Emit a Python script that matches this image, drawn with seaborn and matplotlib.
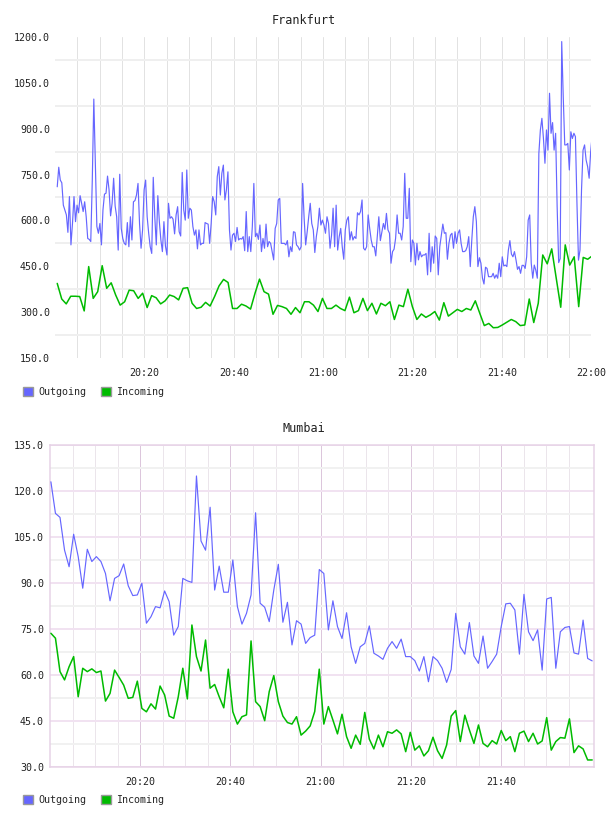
import numpy as np
import pandas as pd
import matplotlib
matplotlib.use("Agg")
import matplotlib.pyplot as plt
import matplotlib.dates as mdates
from matplotlib.patches import Patch
import seaborn as sns

sns.set_theme(style="white")
plt.rcParams["font.family"] = ["DejaVu Sans Mono", "DejaVu Sans"]

# ---------------- data ----------------
START = pd.Timestamp("2024-01-01 20:00")

series_names = ["Outgoing", "Incoming"]

# Frankfurt, outgoing (dense sampling, ~20 s)
fra_out = [
    710, 774, 732, 723, 650, 634, 618, 561, 678, 520,
    590, 678, 596, 650, 625, 681, 656, 629, 661, 612,
    541, 538, 531, 732, 997, 787, 580, 558, 590, 520,
    634, 686, 689, 745, 700, 615, 656, 738, 647, 612,
    503, 751, 574, 541, 525, 520, 593, 514, 612, 536,
    661, 665, 683, 721, 590, 509, 569, 700, 732, 612,
    558, 514, 492, 741, 612, 520, 681, 596, 536, 498,
    596, 516, 487, 656, 607, 612, 604, 556, 618, 645,
    563, 549, 757, 634, 601, 765,
    607, 640, 634, 580, 552, 569, 507, 569, 520, 525,
    525, 593, 590, 588, 525, 590, 678, 661, 618, 743,
    776, 683, 754, 781, 667, 700, 759, 569, 503, 552,
    558, 531, 577, 536, 541, 539, 547, 501, 629, 498,
    547, 498, 580, 721, 547, 558, 538, 585, 498, 541,
    509, 588, 514, 531, 525, 498, 471, 574, 590, 667,
    672, 525, 525, 525, 520, 534, 481, 514, 498, 563,
    561, 520, 514, 503, 514, 721, 607, 520, 563, 612,
    656, 590, 569, 495, 547, 580, 640,
    585, 601, 585, 558, 612, 590, 509, 552, 640, 514,
    650, 503, 547, 574, 514, 473, 569, 601, 612, 536,
    563, 536, 547, 541, 625, 618, 629, 667, 509, 503,
    514, 618, 574, 536, 514, 514, 484, 547, 612, 534,
    563, 590, 571, 623, 569, 558, 460, 498, 506, 541,
    618, 558, 558, 536, 580, 754, 607, 607, 705, 465,
    536, 525, 454, 525, 471, 498, 481, 487, 487, 492,
    422, 558, 432, 514, 460, 549, 541, 422, 514, 552,
    588, 558, 560, 473, 525, 552, 558, 509, 563,
    525, 558, 569, 525, 498, 498, 501, 514, 547, 449,
    536, 612, 645, 596, 449, 478, 460, 411, 392, 447,
    443, 416, 416, 416, 427, 411, 422, 411, 460, 416,
    481, 451, 454, 449, 503, 534, 490, 481, 498, 471,
    440, 449, 427, 453, 453, 443, 481, 601, 618, 460,
    411, 454, 437, 411, 819, 896, 934, 869, 787, 896,
    830, 1016, 885, 920, 830, 885, 645, 462, 475, 1185,
    1005, 847, 847, 852, 765, 890, 868, 885, 874, 656,
    470, 503, 700, 830, 847, 798, 776, 738, 825, 879,
]

# Frankfurt, incoming (one sample per minute)
fra_in = [
    394, 343, 327, 352, 352, 351, 304, 449, 345, 367,
    452, 378, 396, 356, 323, 334, 372, 370, 345, 362,
    315, 354, 347, 327, 337, 356, 351, 340, 378, 380,
    329, 312, 316, 332, 320, 351, 386, 407, 397, 312,
    312, 326, 320, 310, 362, 408, 367, 359, 293, 322,
    318, 312, 293, 315, 298, 334, 334, 323, 302, 345,
    312, 312, 323, 312, 305, 349, 298, 305, 345, 305,
    329, 294, 329, 321, 334, 276, 323, 318, 375, 318,
    276, 294, 283, 291, 302, 274, 331, 287, 298, 309,
    302, 312, 307, 337, 296, 256, 263, 249, 250, 258,
    267, 276, 269, 256, 258, 343, 266, 329, 487, 458,
    507, 411, 316, 520, 454, 481, 318, 479, 473, 484,
]

# Mumbai, outgoing (one sample per minute)
mum_out = [
    123.0, 112.7, 111.4, 100.7, 95.3, 105.9, 98.6, 88.3, 101.0, 97.0,
    98.6, 97.0, 93.1, 84.2, 91.5, 92.4, 96.2, 89.1, 85.9, 86.1,
    89.9, 76.9, 79.0, 82.3, 81.9, 87.4, 83.9, 73.0, 75.8, 91.5,
    90.7, 90.2, 124.9, 103.7, 100.7, 114.7, 87.7, 95.5, 87.0, 87.0,
    97.5, 82.3, 76.6, 80.1, 86.1, 112.9, 83.4, 82.1, 77.4, 87.7,
    96.1, 77.2, 83.7, 69.8, 77.7,
    76.6, 70.3, 72.2, 73.0, 94.4, 93.1, 74.7, 84.2, 75.8, 71.9,
    80.3, 69.2, 63.8, 69.2, 70.3, 76.0, 67.1, 66.2, 65.1, 68.7,
    70.9, 68.7, 71.7, 66.0, 66.0, 64.7, 61.3, 66.0, 57.8, 66.0,
    64.7, 62.2, 57.6, 61.8, 80.1, 69.2, 66.8, 77.1, 66.2, 63.8,
    72.7, 62.2, 64.4, 66.8, 75.8, 83.2, 83.4, 81.2, 66.8, 86.3,
    74.1, 71.2, 74.7, 61.6, 84.8, 85.3, 62.2, 74.1, 75.5, 75.8,
    67.2, 66.8, 77.9, 65.4, 64.6,
]

# Mumbai, incoming (one sample per minute)
mum_in = [
    73.6, 72.0, 61.1, 58.4, 62.7, 66.0, 52.9, 62.2, 61.1, 62.0,
    60.8, 61.3, 51.5, 54.0, 61.6, 59.2, 56.7, 52.4, 52.7, 58.0,
    49.1, 48.0, 50.6, 48.9, 56.4, 53.5, 46.6, 45.9, 52.9, 62.2,
    52.2, 76.3, 66.0, 61.3, 71.4, 55.7, 56.9, 52.9, 49.3, 61.9,
    48.0, 44.0, 46.4, 47.0, 71.1, 51.3, 49.7, 45.1, 54.6, 59.8,
    51.3, 46.6, 44.5, 44.0, 46.4,
    40.4, 41.7, 43.4, 48.1, 61.9, 44.0, 49.7, 45.3, 40.8, 47.2,
    39.9, 36.1, 40.4, 37.4, 47.8, 39.1, 35.9, 40.4, 36.6, 41.5,
    41.0, 42.1, 40.8, 35.0, 41.3, 35.5, 36.9, 33.6, 35.3, 39.7,
    35.3, 32.8, 37.2, 46.6, 48.4, 38.3, 46.9, 42.1, 37.7, 43.7,
    37.7, 36.6, 38.6, 37.5, 41.9, 38.6, 39.9, 35.0, 41.0, 41.7,
    38.3, 41.0, 37.5, 38.5, 46.1, 35.5, 38.3, 39.6, 39.4, 45.7,
    34.7, 36.9, 35.9, 32.3, 32.3,
]

# first / last sample, minutes after 20:00
fra_out_span = (0.5, 120.2)
fra_in_span = (0.5, 120.2)
mum_span = (0.2, 120.2)

fra_yticks = [150, 300, 450, 600, 750, 900, 1050, 1200]
mum_yticks = [30, 45, 60, 75, 90, 105, 120, 135]
tick_times = ["20:20", "20:40", "21:00", "21:20", "21:40", "22:00"]

# ---------------- style ----------------
BLUE = "#6666ff"
GREEN = "#00bb00"
TXT = "#222222"
FS = 7.2
PX = 0.72  # one pixel in points

W, H = 608, 816
fig = plt.figure(figsize=(W / 100, H / 100), dpi=100)
fig.patch.set_facecolor("white")


def box(x0, y0, x1, y1):
    return [x0 / W, 1 - y1 / H, (x1 - x0) / W, (y1 - y0) / H]


def stamps(span, n):
    return START + pd.to_timedelta(np.linspace(span[0], span[1], n), unit="min")


def at(hm):
    return mdates.date2num(pd.Timestamp("2024-01-01 " + hm))


five_min = [t.strftime("%H:%M") for t in
            pd.date_range("2024-01-01 20:05", "2024-01-01 22:00", freq="5min")]


def draw(ax, out_vals, out_span, in_vals, in_span):
    d_out = pd.DataFrame({"time": stamps(out_span, len(out_vals)), "value": out_vals,
                          "series": series_names[0]})
    d_in = pd.DataFrame({"time": stamps(in_span, len(in_vals)), "value": in_vals,
                         "series": series_names[1]})
    sns.lineplot(data=d_out, x="time", y="value", ax=ax, color=BLUE, lw=0.85,
                 estimator=None, legend=False, zorder=3)
    sns.lineplot(data=d_in, x="time", y="value", ax=ax, color=GREEN, lw=1.1,
                 estimator=None, legend=False, zorder=4)
    ax.set_xlabel("")
    ax.set_ylabel("")
    ax.set_axisbelow(True)
    ax.tick_params(which="both", length=0, labelsize=FS, labelcolor=TXT)


def legend_at(y_px):
    handles = [Patch(facecolor=BLUE, edgecolor="#999999", lw=1, label=series_names[0]),
               Patch(facecolor=GREEN, edgecolor="#999999", lw=1, label=series_names[1])]
    fig.legend(handles=handles, loc="center left", bbox_to_anchor=(23 / W, 1 - y_px / H),
               ncol=2, frameon=False, fontsize=FS, handlelength=1.0, handleheight=1.0,
               handletextpad=0.5, columnspacing=1.5, borderpad=0, borderaxespad=0)


# ---------------- Frankfurt ----------------
ax1 = fig.add_axes(box(55, 37, 591.3, 358))
draw(ax1, fra_out, fra_out_span, fra_in, fra_in_span)
ax1.set_xlim(at("20:00"), at("22:00"))
ax1.set_ylim(150, 1200)
ax1.set_yticks(fra_yticks)
ax1.set_yticklabels([f"{v:.1f}" for v in fra_yticks])
ax1.set_yticks([v + 75 for v in fra_yticks[:-1]], minor=True)
ax1.set_xticks([at(t) for t in tick_times])
ax1.set_xticklabels(tick_times)
ax1.set_xticks([at(t) for t in five_min if t not in tick_times], minor=True)
ax1.grid(False)
ax1.grid(which="both", axis="x", color="#e2e2e2", lw=PX)
ax1.grid(which="minor", axis="y", color="#efefef", lw=2 * PX)
ax1.tick_params(axis="y", pad=3.6)
ax1.tick_params(axis="x", pad=7)
for s in ax1.spines.values():
    s.set_visible(False)
fig.text(0.5, 1 - 20 / H, "Frankfurt", ha="center", va="center", fontsize=8.5, color=TXT)
legend_at(392)

# ---------------- Mumbai ----------------
ax2 = fig.add_axes(box(50, 445, 594, 767))
draw(ax2, mum_out, mum_span, mum_in, mum_span)
ax2.set_xlim(at("20:00"), mdates.date2num(START + pd.Timedelta(minutes=120.6)))
ax2.set_ylim(30, 135)
ax2.set_yticks(mum_yticks)
ax2.set_yticklabels([f"{v:.1f}" for v in mum_yticks])
ax2.set_yticks([v + 7.5 for v in mum_yticks[:-1]], minor=True)
ax2.set_xticks([at(t) for t in tick_times[:-1]])
ax2.set_xticklabels(tick_times[:-1])
ax2.set_xticks([at(t) for t in five_min if t not in tick_times], minor=True)
ax2.grid(False)
ax2.grid(which="major", axis="x", color="#dcc6dc", lw=PX)
ax2.grid(which="minor", axis="x", color="#ebe5eb", lw=PX)
ax2.grid(which="major", axis="y", color="#f1e2f1", lw=2 * PX)
ax2.grid(which="minor", axis="y", color="#f1f1f1", lw=2 * PX)
ax2.tick_params(axis="y", pad=4.3)
ax2.tick_params(axis="x", pad=7)
for s in ax2.spines.values():
    s.set_visible(True)
    s.set_color("#e6d2e6")
    s.set_linewidth(1.5 * PX)
fig.text(0.5, 1 - 428 / H, "Mumbai", ha="center", va="center", fontsize=8.5, color=TXT)
legend_at(800)

fig.savefig("out.png", dpi=100, facecolor="white")
